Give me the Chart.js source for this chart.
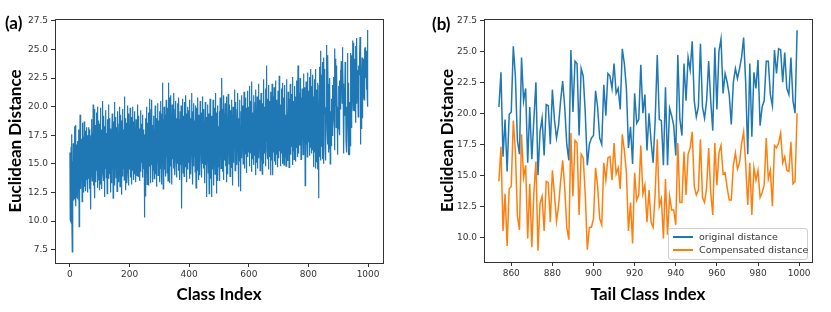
<!DOCTYPE html>
<html>
<head>
<meta charset="utf-8">
<script src="https://cdn.jsdelivr.net/npm/chart.js@4.4.0/dist/chart.umd.min.js"></script>
<style>
  body { margin: 0; background: #fff; width: 831px; height: 312px; position: relative; overflow: hidden; }
  canvas { position: absolute; top: 0; }
  .tag { position: absolute; font: bold 17px Lato, sans-serif; color: #000; }
  #legendB { position: absolute; left: 668px; top: 228px; width: 138px; height: 30px;
    border: 1px solid #d0d0d0; border-radius: 3px; background: rgba(255,255,255,0.85);
    font: 9.5px 'DejaVu Sans', sans-serif; color: #333; }
  #legendB .row { position: absolute; left: 4px; height: 12px; line-height: 12px; white-space: nowrap; }
  #legendB .sw { display: inline-block; width: 20px; height: 2px; vertical-align: middle; margin-right: 6px; position: relative; top: -1px; }
</style>
</head>
<body>
<canvas id="chartA" width="415" height="312" style="left:0"></canvas>
<canvas id="chartB" width="416" height="312" style="left:415px"></canvas>
<div class="tag" style="left:5px;top:12px">(a)</div>
<div class="tag" style="left:432px;top:13px">(b)</div>
<div id="legendB"></div>
<script>
'use strict'

// panel (a): classes 0..853 (the tail 854..999 is shared with panel (b))
var headDistance = [
  16.0, 10.1, 15.8, 10.0, 16.5, 12.0, 17.6, 11.0, 7.3, 15.2, 12.0, 16.8, 11.8, 16.2, 13.0, 18.3, 11.9, 15.5, 13.3, 18.4,
  11.3, 15.0, 13.8, 16.7, 12.1, 17.0, 14.5, 12.0, 16.8, 13.2, 18.0, 9.5, 16.5, 12.9, 19.3, 13.5, 15.8, 12.8, 17.2, 14.2,
  16.9, 11.7, 18.6, 13.8, 15.2, 12.5, 17.4, 14.6, 18.7, 13.0, 16.3, 14.8, 17.9, 12.6, 15.4, 18.2, 13.6, 16.7, 14.0, 17.5,
  12.5, 16.0, 18.2, 13.7, 17.1, 15.0, 12.8, 18.0, 14.3, 16.4, 11.0, 17.5, 13.9, 18.9, 15.2, 13.5, 17.7, 14.9, 20.2, 13.1,
  16.8, 14.1, 19.8, 12.0, 17.3, 15.6, 18.4, 13.4, 16.2, 19.5, 14.4, 17.6, 12.9, 20.0, 15.7, 13.6, 18.8, 14.8, 16.9, 12.7,
  18.5, 15.3, 13.2, 19.9, 16.1, 14.0, 18.0, 12.8, 17.4, 15.5, 20.5, 14.2, 16.8, 13.5, 19.2, 15.9, 12.1, 18.3, 14.6, 17.0,
  15.1, 19.7, 13.8, 17.7, 16.2, 12.4, 18.9, 14.9, 16.5, 20.2, 13.7, 17.2, 15.0, 19.0, 14.1, 16.6, 12.5, 18.1, 15.4, 17.9,
  13.3, 16.9, 19.4, 14.5, 17.8, 12.0, 16.0, 18.7, 14.3, 20.4, 15.6, 13.1, 17.5, 15.2, 19.1, 13.8, 16.4, 18.2, 12.6, 17.1,
  15.8, 19.6, 14.0, 16.7, 13.4, 18.5, 15.1, 20.0, 13.0, 17.3, 14.7, 19.3, 16.1, 12.3, 18.8, 15.5, 17.6, 13.9, 19.8, 14.6,
  16.3, 18.0, 13.6, 20.9, 15.0, 17.4, 12.7, 19.0, 14.8, 16.6, 18.6, 13.3, 17.0, 15.7, 20.1, 14.2, 16.9, 13.1, 19.4, 15.3,
  17.7, 14.5, 19.9, 13.8, 16.2, 18.4, 15.0, 13.2, 19.1, 16.5, 14.4, 20.0, 15.8, 17.5, 13.6, 18.7, 16.0, 14.1, 19.6, 15.4,
  17.2, 13.4, 18.9, 15.6, 16.8, 14.0, 20.2, 15.2, 17.9, 13.9, 16.4, 19.2, 14.7, 18.1, 15.9, 13.5, 17.3, 19.7, 14.3, 16.6,
  18.5, 15.1, 17.0, 13.8, 19.3, 16.2, 14.6, 18.0, 15.5, 17.6, 10.3, 16.9, 12.2, 19.0, 15.4, 17.8, 14.2, 20.0, 16.0, 13.2,
  18.6, 15.0, 17.4, 13.1, 19.5, 16.4, 14.8, 20.7, 15.6, 18.2, 13.3, 17.1, 19.8, 14.9, 16.7, 20.6, 15.3, 13.4, 18.4, 16.1,
  14.4, 19.2, 16.8, 13.7, 18.0, 15.5, 20.1, 17.0, 14.1, 19.0, 16.3, 13.0, 17.7, 15.2, 20.3, 16.6, 14.0, 18.8, 15.9, 17.3,
  13.4, 19.6, 16.0, 14.6, 18.3, 20.5, 15.1, 17.5, 13.2, 19.4, 22.1, 15.8, 17.2, 12.8, 18.9, 16.4, 20.0, 14.5, 17.9, 15.3,
  19.3, 13.9, 17.0, 20.6, 15.6, 18.4, 14.2, 19.9, 16.7, 13.5, 22.1, 17.4, 15.0, 20.8, 16.2, 13.3, 19.1, 17.8, 14.8, 21.0,
  16.0, 18.6, 13.2, 20.2, 17.1, 15.4, 19.5, 14.6, 17.9, 21.2, 15.8, 18.1, 14.0, 19.8, 16.5, 20.5, 15.2, 17.6, 13.8, 19.0,
  16.9, 20.3, 15.0, 18.4, 14.4, 20.8, 16.3, 18.9, 15.5, 13.6, 19.6, 17.2, 14.9, 20.1, 16.1, 11.1, 18.7, 15.7, 20.7, 17.4,
  14.2, 19.2, 16.6, 13.9, 20.4, 17.7, 15.3, 18.5, 14.7, 21.0, 16.8, 13.4, 19.4, 15.9, 18.2, 14.5, 20.0, 17.0, 15.1, 19.7,
  16.4, 13.7, 20.6, 17.3, 15.0, 19.0, 14.1, 18.3, 16.0, 21.2, 15.4, 17.8, 13.2, 19.6, 16.7, 14.8, 20.3, 17.5, 15.6, 18.8,
  14.3, 20.1, 16.9, 12.9, 18.6, 15.8, 19.9, 17.1, 14.4, 20.8, 16.2, 18.4, 13.6, 19.3, 15.3, 17.7, 14.0, 20.5, 16.6, 18.1,
  15.2, 19.5, 13.8, 17.9, 16.5, 20.9, 15.0, 18.7, 14.6, 19.8, 16.8, 13.3, 18.2, 15.7, 20.4, 17.2, 14.9, 19.1, 16.1, 12.1,
  18.9, 15.9, 20.2, 17.0, 14.2, 19.4, 16.4, 12.4, 18.0, 15.1, 20.7, 17.6, 13.7, 18.5, 16.0, 12.1, 19.2, 15.5, 17.8, 14.5,
  20.6, 16.7, 18.9, 13.1, 19.9, 15.8, 17.3, 14.1, 21.2, 16.3, 18.6, 12.4, 19.5, 15.2, 17.7, 13.5, 20.1, 16.9, 14.7, 18.3,
  15.4, 19.6, 17.1, 13.5, 20.8, 16.0, 18.4, 14.6, 19.2, 15.9, 22.5, 17.0, 14.3, 19.8, 16.5, 13.6, 21.0, 17.8, 15.3, 19.4,
  16.2, 20.3, 14.8, 18.5, 16.9, 13.4, 20.9, 17.4, 15.6, 19.1, 14.1, 21.1, 16.6, 18.7, 15.0, 20.2, 17.2, 13.9, 19.7, 16.3,
  18.2, 14.7, 20.6, 16.8, 19.3, 15.4, 13.1, 20.0, 17.6, 15.1, 19.5, 16.4, 21.5, 17.9, 14.4, 18.8, 16.1, 20.4, 15.7, 18.0,
  14.9, 19.8, 17.3, 21.2, 15.8, 18.6, 13.0, 19.0, 16.7, 20.6, 15.2, 18.3, 16.0, 12.6, 19.6, 17.0, 21.0, 15.5, 18.9, 16.4,
  20.1, 15.0, 18.1, 16.9, 21.3, 14.6, 19.4, 17.5, 15.9, 20.8, 16.3, 18.7, 14.2, 19.9, 17.2, 21.4, 15.6, 18.4, 16.6, 20.0,
  16.0, 19.1, 14.8, 21.8, 17.4, 15.9, 20.5, 16.6, 18.9, 14.3, 22.2, 17.0, 19.5, 15.4, 18.1, 16.2, 21.0, 14.9, 19.7, 17.3,
  15.7, 20.4, 17.9, 14.0, 21.5, 16.4, 19.0, 15.1, 20.9, 17.6, 14.6, 19.8, 16.8, 22.0, 15.5, 18.6, 17.1, 20.6, 14.4, 19.3,
  16.5, 21.2, 15.3, 18.7, 17.2, 14.1, 20.3, 16.9, 19.6, 15.0, 22.4, 17.7, 15.9, 20.0, 16.4, 18.4, 14.8, 21.6, 17.0, 19.9,
  23.6, 16.2, 19.4, 15.4, 20.7, 17.5, 14.5, 21.9, 16.6, 19.2, 15.6, 20.5, 18.0, 14.0, 21.3, 17.1, 19.8, 15.3, 22.0, 16.7,
  18.8, 14.0, 20.9, 17.4, 16.0, 21.7, 15.2, 19.5, 17.8, 14.9, 22.3, 16.5, 19.1, 15.8, 20.6, 17.3, 18.5, 14.7, 21.4, 16.9,
  19.7, 15.5, 22.7, 17.6, 16.1, 20.2, 14.8, 19.0, 17.0, 21.6, 15.9, 18.7, 16.6, 22.1, 15.0, 19.6, 17.4, 20.8, 14.9, 18.3,
  16.8, 21.9, 15.6, 19.3, 17.9, 14.8, 22.4, 16.4, 20.0, 15.3, 18.9, 17.2, 21.3, 16.0, 19.5, 14.7, 20.7, 17.8, 16.3, 22.0,
  15.8, 19.9, 17.0, 21.1, 16.5, 18.6, 14.9, 22.6, 17.5, 19.2, 16.1, 20.5, 15.4, 18.8, 21.8, 16.9, 19.6, 15.2, 20.9, 17.7,
  16.4, 22.3, 18.1, 15.6, 20.4, 23.6, 17.3, 19.4, 15.9, 21.2, 18.0, 16.6, 22.5, 17.1, 19.8, 15.4, 20.8, 18.4, 16.2, 21.6,
  17.6, 19.7, 15.8, 22.9, 18.6, 16.3, 20.6, 17.2, 21.7, 13.1, 19.3, 17.9, 22.2, 16.7, 20.1, 18.2, 15.6, 23.0, 17.4, 19.9,
  16.9, 21.4, 18.5, 15.7, 22.6, 17.8, 20.3, 16.4, 23.3, 18.1, 15.9, 21.8, 17.3, 19.6, 16.2, 22.8, 18.7, 14.7, 20.9, 17.6,
  22.4, 16.0, 19.5, 14.6, 23.3, 18.3, 15.2, 21.5, 17.1, 20.7, 14.5, 22.1, 16.8, 19.2, 12.0, 18.9, 21.9, 15.6, 23.5, 17.8,
  20.2, 15.3, 24.9, 18.6, 16.5, 22.8, 19.0, 15.4, 23.9, 17.7, 21.3, 15.0, 24.3, 19.4
];

// panel (b): tail classes 854..999
var tailStart = 854;
var originalDistance = [
  20.5, 23.3, 16.5, 19.5, 15.3, 19.9, 20.1, 25.4, 23.0, 17.8,
  16.7, 24.5, 21.0, 22.0, 16.0, 20.5, 16.3, 19.5, 22.5, 15.0,
  18.5, 19.6, 16.6, 20.7, 20.6, 17.5, 21.9, 19.5, 18.0, 19.0,
  21.0, 22.6, 20.5, 17.5, 16.2, 25.1, 20.1, 24.2, 24.0, 18.2,
  23.6, 23.0, 20.0, 15.8, 17.5, 18.0, 18.2, 21.8, 20.5, 18.0,
  17.5, 22.3, 19.8, 23.2, 23.0, 22.0, 24.0, 21.6, 22.0, 20.3,
  25.2, 24.0, 22.0, 17.2, 18.9, 15.9, 21.6, 19.2, 19.5, 23.9,
  20.0, 21.5, 17.0, 20.0, 17.7, 16.0, 19.5, 24.7, 19.5, 19.4,
  15.8, 22.1, 15.8, 20.4, 19.8, 19.0, 16.6, 24.7, 19.5, 18.2,
  24.0, 21.0, 24.5, 23.5, 25.8, 21.0, 19.7, 20.5, 25.6, 20.5,
  19.6, 21.0, 24.2, 21.0, 18.6, 25.3, 20.3, 25.0, 26.0, 21.6,
  23.2, 22.5, 21.5, 19.1, 22.5, 23.6, 22.8, 23.6, 24.5, 26.1,
  22.5, 16.7, 24.0, 18.1, 23.3, 22.0, 24.3, 19.0, 20.5, 21.0,
  24.2, 24.2, 21.5, 20.6, 25.1, 23.2, 25.2, 25.1, 22.5, 24.9,
  22.0, 21.5, 24.5, 21.0, 20.0, 26.7
];
var compensatedDistance = [
  14.5, 17.3, 10.5, 13.5, 9.3, 13.9, 14.1, 19.4, 17.0, 11.7,
  10.6, 18.3, 14.8, 15.8, 9.9, 14.3, 9.2, 13.6, 16.1, 8.9,
  12.7, 13.3, 10.5, 14.5, 14.4, 11.2, 15.4, 13.5, 11.3, 12.5,
  14.5, 16.2, 14.0, 10.8, 9.8, 18.4, 13.3, 17.8, 17.6, 11.8,
  16.7, 16.4, 13.4, 9.0, 10.8, 10.8, 11.5, 15.6, 14.1, 11.5,
  11.0, 16.0, 14.6, 16.4, 16.5, 14.6, 17.6, 15.1, 15.6, 13.9,
  18.3, 17.0, 15.2, 10.5, 12.8, 9.5, 15.2, 13.0, 13.4, 17.4,
  13.5, 14.2, 11.2, 13.8, 11.2, 10.8, 13.6, 17.9, 12.5, 13.1,
  9.9, 14.7, 10.2, 13.3, 12.2, 12.2, 11.0, 17.6, 12.8, 12.8,
  16.9, 13.4, 16.7, 17.2, 18.5, 14.1, 13.4, 13.8, 17.9, 13.2,
  12.8, 14.0, 17.2, 13.6, 11.8, 17.6, 14.2, 16.8, 17.4, 15.1,
  15.2, 14.0, 13.0, 13.0, 15.8, 16.8, 15.5, 16.0, 17.5, 18.5,
  15.9, 12.6, 16.0, 11.8, 15.6, 14.6, 15.4, 13.2, 13.6, 14.2,
  18.0, 14.7, 15.4, 12.5, 17.4, 17.2, 17.6, 18.4, 16.0, 16.5,
  15.4, 15.3, 17.7, 14.3, 14.5, 20.0
];
var seriesNames = ['original distance', 'Compensated distance'];
var seriesColors = ['#1f77b4', '#ff7f0e'];

var ticksA_x = [0, 200, 400, 600, 800, 1000];
var ticksA_y = [7.5, 10, 12.5, 15, 17.5, 20, 22.5, 25, 27.5];
var ticksB_x = [860, 880, 900, 920, 940, 960, 980, 1000];
var ticksB_y = [10, 12.5, 15, 17.5, 20, 22.5, 25, 27.5];

var allDistance = headDistance.concat(originalDistance);
var pointsA = allDistance.map(function(v, i) { return {x: i, y: v}; });
var pointsOrig = originalDistance.map(function(v, i) { return {x: tailStart + i, y: v}; });
var pointsComp = compensatedDistance.map(function(v, i) { return {x: tailStart + i, y: v}; });

var framePlugin = {
  id: 'frame',
  afterDraw: function(chart) {
    var a = chart.chartArea, ctx = chart.ctx;
    ctx.save();
    ctx.strokeStyle = '#333';
    ctx.lineWidth = 1;
    ctx.strokeRect(Math.round(a.left) + 0.5, Math.round(a.top) + 0.5,
      Math.round(a.right - a.left), Math.round(a.bottom - a.top));
    ctx.restore();
  }
};

var tickFont = {family: 'DejaVu Sans', size: 9};
var titleFont = {family: 'Lato', weight: 'bold', size: 17};

function axisX(min, max, tickVals, title, height) {
  return {
    type: 'linear', min: min, max: max,
    afterBuildTicks: function(s) { s.ticks = tickVals.map(function(v) { return {value: v}; }); },
    afterFit: function(s) { s.height = height; },
    grid: {drawOnChartArea: false, drawTicks: true, tickLength: 4, color: '#333'},
    border: {display: false},
    ticks: {font: tickFont, color: '#333', padding: 2, maxRotation: 0,
      callback: function(v) { return String(v); }},
    title: {display: true, text: title, font: titleFont, color: '#000', padding: {top: 0, bottom: 7}}
  };
}
function axisY(min, max, tickVals, width, titlePad) {
  return {
    min: min, max: max,
    afterBuildTicks: function(s) { s.ticks = tickVals.map(function(v) { return {value: v}; }); },
    afterFit: function(s) { s.width = width; },
    grid: {drawOnChartArea: false, drawTicks: true, tickLength: 4, color: '#333'},
    border: {display: false},
    ticks: {font: tickFont, color: '#333', padding: 3,
      callback: function(v) { return v.toFixed(1); }},
    title: {display: true, text: 'Euclidean Distance', font: titleFont, color: '#000', padding: {top: titlePad, bottom: 0}}
  };
}

var commonOpts = {
  responsive: false,
  animation: false,
  devicePixelRatio: 1,
  plugins: {legend: {display: false}, tooltip: {enabled: false}}
};

new Chart(document.getElementById('chartA'), {
  type: 'line',
  data: {datasets: [{data: pointsA, borderColor: seriesColors[0], borderWidth: 1.2,
    pointRadius: 0, tension: 0, fill: false}]},
  options: Object.assign({}, commonOpts, {
    layout: {padding: {top: 19, right: 32, left: 0, bottom: 0}},
    scales: {
      x: axisX(-50, 1050, ticksA_x, 'Class Index', 49),
      y: axisY(6.33, 27.67, ticksA_y, 55, 5)
    }
  }),
  plugins: [framePlugin]
});

new Chart(document.getElementById('chartB'), {
  type: 'line',
  data: {datasets: [
    {label: seriesNames[0], data: pointsOrig, borderColor: seriesColors[0], borderWidth: 1.5,
      pointRadius: 0, tension: 0, fill: false},
    {label: seriesNames[1], data: pointsComp, borderColor: seriesColors[1], borderWidth: 1.5,
      pointRadius: 0, tension: 0, fill: false}
  ]},
  options: Object.assign({}, commonOpts, {
    layout: {padding: {top: 19, right: 19, left: 0, bottom: 0}},
    scales: {
      x: axisX(846.75, 1006.25, ticksB_x, 'Tail Class Index', 50),
      y: axisY(8.0, 27.6, ticksB_y, 69, 22)
    }
  }),
  plugins: [framePlugin]
});

// legend box inside panel (b)
var legendBox = document.getElementById('legendB');
seriesNames.forEach(function(name, i) {
  var row = document.createElement('div');
  row.className = 'row';
  row.style.top = (2 + i * 13) + 'px';
  row.innerHTML = '<span class="sw" style="background:' + seriesColors[i] + '"></span>' + name;
  legendBox.appendChild(row);
});
</script>
</body>
</html>
